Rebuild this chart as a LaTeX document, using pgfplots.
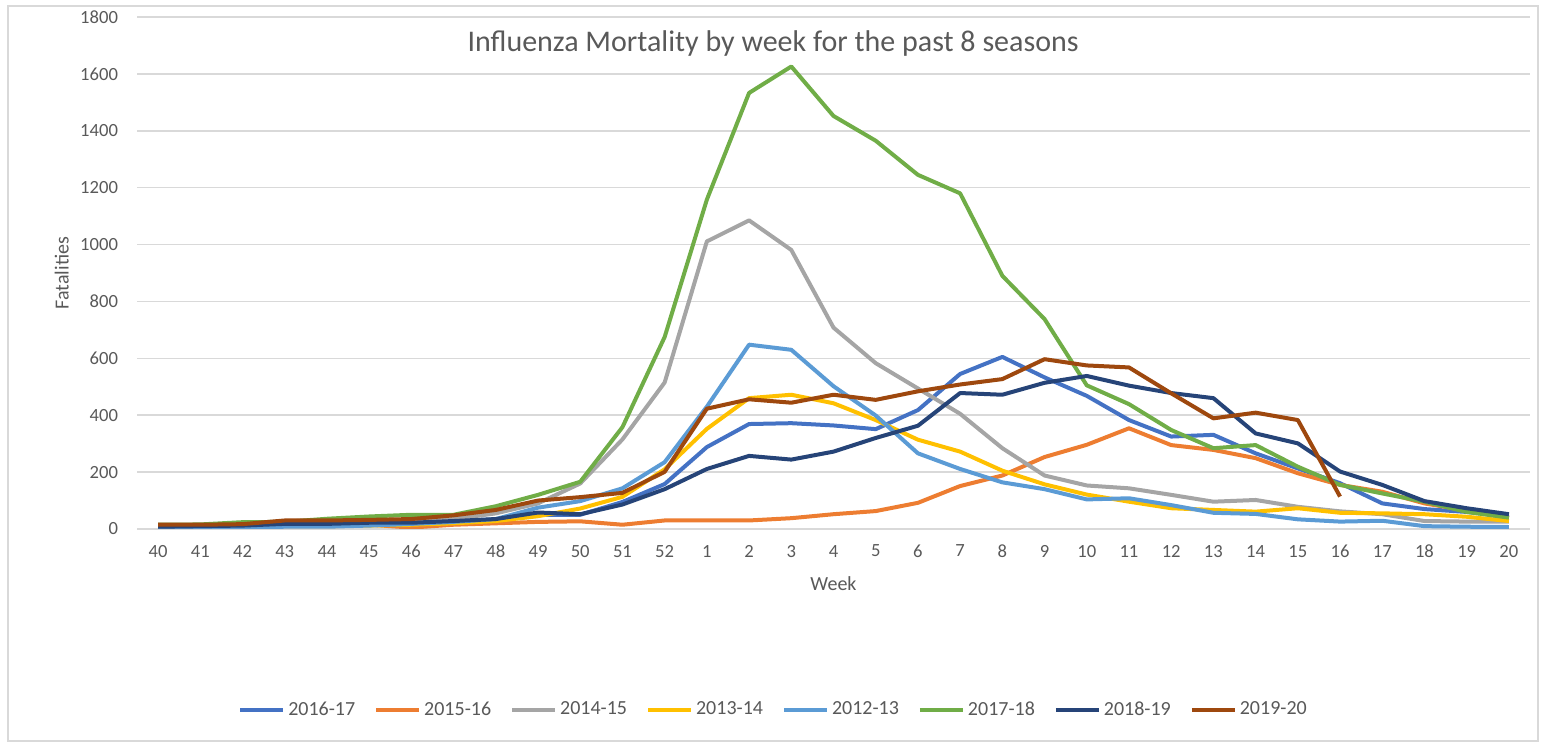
\documentclass[border=0pt]{standalone}
\usepackage{pgfplots}
\usepackage{pgfplotstable}
\pgfplotsset{compat=1.18}
\usepackage{fontspec}
\setmainfont{Carlito}

\definecolor{sA}{HTML}{4472C4}
\definecolor{sB}{HTML}{ED7D31}
\definecolor{sC}{HTML}{A5A5A5}
\definecolor{sD}{HTML}{FFC000}
\definecolor{sE}{HTML}{5B9BD5}
\definecolor{sF}{HTML}{70AD47}
\definecolor{sG}{HTML}{264478}
\definecolor{sH}{HTML}{9E480E}
\definecolor{gridc}{HTML}{D9D9D9}
\definecolor{txt}{HTML}{595959}

% weeks 40..52, 1..20 plotted at 0..32
\pgfplotstableread{
x  a    b    c    d    e    f    g    h
0  5    10   10   5    5    15   8    15
1  5    10   10   5    5    16   10   15
2  8    12   15   8    5    24   12   17
3  12   15   20   10   8    25   18   30
4  12   15   20   10   8    36   18   30
5  18   15   22   12   12   44   22   32
6  22   5    25   15   18   50   22   35
7  25   15   35   20   25   50   28   48
8  32   20   55   28   35   80   35   67
9  50   25   90   45   75   120  58   100
10 50   27   160  72   98   166  52   112
11 95   15   315  113  143  358  86   127
12 158  30   515  210  235  675  140  201
13 288  30   1011 352  430  1158 211  423
14 369  30   1085 460  648  1533 257  456
15 372  38   981  472  630  1626 244  444
16 364  52   708  442  502  1452 272  472
17 351  63   583  383  399  1365 320  454
18 418  92   494  314  266  1245 363  484
19 545  151  405  272  211  1180 478  508
20 605  188  284  205  164  890  472  527
21 533  253  188  157  140  738  514  597
22 468  296  153  121  104  505  538  575
23 383  354  143  96   108  439  504  568
24 325  295  120  73   84   348  478  477
25 331  278  96   67   57   284  460  389
26 266  249  102  61   53   295  336  409
27 213  196  78   73   34   219  301  383
28 161  155  62   57   26   155  202  114
29 90   131  52   55   29   125  155  nan
30 70   90   28   52   10   96   98   nan
31 60   65   26   43   8    60   73   nan
32 43   38   26   28   7    40   52   nan
}\flu

\begin{document}
\begin{tikzpicture}[x=1pt,y=1pt]
\path[use as bounding box] (-68.5pt,-109.5pt) rectangle (709.5pt,264.5pt);
\draw[gridc, line width=0.75pt] (-64.5pt,-106pt) rectangle (700.5pt,261.5pt);
\begin{axis}[
  at={(0pt,0pt)}, anchor=south west,
  scale only axis, width=696.5pt, height=256pt,
  xmin=-0.5, xmax=32.5, ymin=0, ymax=1800,
  xtick={0,...,32},
  xticklabels={40,41,42,43,44,45,46,47,48,49,50,51,52,1,2,3,4,5,6,7,8,9,10,11,12,13,14,15,16,17,18,19,20},
  ytick={0,200,...,1800},
  /pgf/number format/assume math mode=true,
  /pgf/number format/1000 sep={},
  ymajorgrids, major grid style={gridc, line width=0.75pt},
  axis line style={draw=none}, major tick length=0pt,
  ticklabel style={font=\fontsize{9.3}{11}\selectfont, text=txt},
  yticklabel style={xshift=-6pt},
  xticklabel style={yshift=-4.5pt},
  title={Influenza Mortality by week for the past 8 seasons},
  title style={at={(axis description cs:0.4566,0.949)}, anchor=center, yshift=-6pt,
    font=\fontsize{15}{17}\selectfont, text=txt},
  xlabel={Week},
  xlabel style={at={(axis description cs:0.5,-0.107)}, anchor=center,
    font=\fontsize{10}{12}\selectfont, text=txt},
  ylabel={Fatalities},
  ylabel style={at={(axis description cs:-0.054,0.5)}, anchor=center, rotate=0,
    font=\fontsize{10}{12}\selectfont, text=txt},
  legend columns=8,
  legend style={at={(axis description cs:0.4573,-0.3535)}, anchor=center,
    draw=none, font=\fontsize{10}{12}\selectfont, text=txt,
    nodes={inner xsep=1.5pt},
    /tikz/every odd column/.append style={column sep=0pt},
    /tikz/every even column/.append style={column sep=8pt}},
  legend image code/.code={\draw[#1, line width=2pt] (0pt,0pt) -- (21.5pt,0pt);},
  every axis plot/.append style={line width=2pt, line join=round, no markers},
  unbounded coords=discard,
]
\addplot[sA] table[x=x,y=a]{\flu}; \addlegendentry{2016-17}
\addplot[sB] table[x=x,y=b]{\flu}; \addlegendentry{2015-16}
\addplot[sC] table[x=x,y=c]{\flu}; \addlegendentry{2014-15}
\addplot[sD] table[x=x,y=d]{\flu}; \addlegendentry{2013-14}
\addplot[sE] table[x=x,y=e]{\flu}; \addlegendentry{2012-13}
\addplot[sF] table[x=x,y=f]{\flu}; \addlegendentry{2017-18}
\addplot[sG] table[x=x,y=g]{\flu}; \addlegendentry{2018-19}
\addplot[sH] table[x=x,y=h]{\flu}; \addlegendentry{2019-20}
\end{axis}
\end{tikzpicture}
\end{document}
